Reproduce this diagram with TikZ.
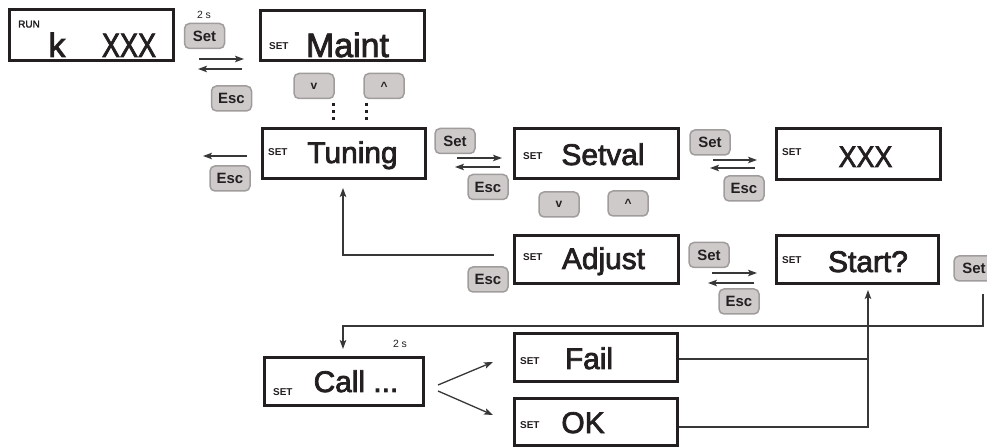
\documentclass[tikz,border=0pt]{standalone}
\usepackage{fontspec}
\setmainfont{Liberation Sans}
\newfontfamily\lcdfont[FakeBold=2.5]{Liberation Sans}
\usetikzlibrary{arrows.meta}
\definecolor{btnfill}{RGB}{206,202,202}
\definecolor{btnedge}{RGB}{160,156,156}
\definecolor{ink}{RGB}{35,31,32}
\definecolor{wire}{RGB}{55,55,55}
\tikzset{
  lcd/.style={draw=ink, line width=3bp, rectangle, inner sep=0pt},
  key/.style={draw=btnedge, fill=btnfill, line width=1.5bp, rounded corners=5bp,
    minimum width=40bp, minimum height=25bp, inner sep=0pt,
    font=\fontsize{15}{15}\selectfont\bfseries, text=ink},
  arrkey/.style={key, font=\fontsize{12}{12}\selectfont\bfseries},
  setlbl/.style={anchor=base west, inner sep=0pt, font=\fontsize{10}{10}\selectfont\bfseries, text=ink},
  big/.style={anchor=base, inner sep=0pt, font=\fontsize{30}{30}\selectfont\lcdfont, text=ink},
  bigger/.style={anchor=base, inner sep=0pt, font=\fontsize{34}{34}\selectfont\lcdfont, text=ink},
  small/.style={inner sep=0pt, font=\fontsize{10.5}{10.5}\selectfont, text=ink},
  wirestyle/.style={draw=wire, line width=1.3bp},
  tipped/.style={wirestyle, -{Stealth[length=9bp,width=6.5bp,inset=2bp]}},
  dotcol/.style={draw=ink, line width=3bp, dash pattern=on 3bp off 4bp},
}
\begin{document}
\begin{tikzpicture}[x=1bp,y=-1bp]
\useasboundingbox (0,0) rectangle (987,447);

% ---------- display boxes ----------
\node[lcd, minimum width=164bp, minimum height=51bp] (run) at (91.5,35) {};
\node[lcd, minimum width=164bp, minimum height=50bp] (maint) at (342.5,35.5) {};
\node[lcd, minimum width=163bp, minimum height=50bp] (tuning) at (344,153.5) {};
\node[lcd, minimum width=164bp, minimum height=50bp] (setval) at (596.5,153.5) {};
\node[lcd, minimum width=164bp, minimum height=51bp] (xxx) at (858.5,154) {};
\node[lcd, minimum width=164bp, minimum height=48bp] (adjust) at (596.5,259.5) {};
\node[lcd, minimum width=162bp, minimum height=48bp] (start) at (857.5,259.5) {};
\node[lcd, minimum width=159bp, minimum height=48bp] (call) at (344,381.5) {};
\node[lcd, minimum width=163bp, minimum height=48bp] (fail) at (596,357.5) {};
\node[lcd, minimum width=163bp, minimum height=47bp] (ok) at (596,422) {};

% ---------- box texts ----------
\node[anchor=base west, inner sep=0pt, text=ink, font=\fontsize{10}{10}\selectfont\lcdfont] (run-tag) at (18,27.5) {RUN};
\node[bigger] (run-k) at (57,57) {k};
\node[bigger] (run-x) at (129,57) {\scalebox{0.8}[1]{XXX}};

\node[setlbl] (maint-tag) at (269,50) {SET};
\node[bigger] (maint-t) at (347.5,57) {Maint};

\node[setlbl] (tuning-tag) at (268,156) {SET};
\node[big] (tuning-t) at (352.5,163) {Tuning};

\node[setlbl] (setval-tag) at (523,160) {SET};
\node[big] (setval-t) at (603,165) {Setval};

\node[setlbl] (xxx-tag) at (782,156) {SET};
\node[big] (xxx-t) at (865.5,167) {\scalebox{0.9}[1]{XXX}};

\node[setlbl] (adjust-tag) at (523,261) {SET};
\node[big] (adjust-t) at (603.5,269) {Adjust};

\node[setlbl] (start-tag) at (782,264) {SET};
\node[big] (start-t) at (868,272) {Start?};

\node[setlbl] (call-tag) at (273,395) {SET};
\node[big] (call-t) at (356,392) {Call ...};

\node[setlbl] (fail-tag) at (520,365) {SET};
\node[big] (fail-t) at (589,369) {Fail};

\node[setlbl] (ok-tag) at (520,428) {SET};
\node[big] (ok-t) at (583,433) {OK};

% ---------- keys ----------
\node[key] (k1) at (204.5,36) {Set};
\node[key] (k2) at (231.5,98.5) {Esc};
\node[arrkey] (k3) at (314,86) {v};
\node[arrkey] (k4) at (384,86) {\raisebox{-3bp}{\textasciicircum}};
\node[key] (k5) at (230,178.5) {Esc};
\node[key] (k6) at (455,141) {Set};
\node[key] (k7) at (488,187) {Esc};
\node[arrkey] (k8) at (559,204.5) {v};
\node[arrkey] (k9) at (628,203.5) {\raisebox{-3bp}{\textasciicircum}};
\node[key] (k10) at (710,142.5) {Set};
\node[key] (k11) at (744,188.5) {Esc};
\node[key] (k12) at (488,279.5) {Esc};
\node[key] (k13) at (709,255) {Set};
\node[key] (k14) at (739,301.5) {Esc};
\node[key] (k15) at (974,268.5) {Set};

% ---------- timing labels ----------
\node[small] (two-a) at (204,15) {2 s};
\node[small] (two-b) at (400,344) {2 s};

% ---------- dotted continuation ----------
\coordinate (d1a) at (333,103); \coordinate (d1b) at (333,121);
\coordinate (d2a) at (366,103); \coordinate (d2b) at (366,121);
\draw[dotcol] (d1a) -- (d1b);
\draw[dotcol] (d2a) -- (d2b);

% ---------- short transition arrows ----------
\coordinate (a1s) at (199,59);  \coordinate (a1e) at (244,59);
\coordinate (a1r) at (242,69);  \coordinate (a1l) at (198,69);
\draw[tipped] (a1s) -- (a1e);
\draw[tipped] (a1r) -- (a1l);

\coordinate (a2s) at (247,156); \coordinate (a2e) at (203,156);
\draw[tipped] (a2s) -- (a2e);

\coordinate (a3s) at (457,158); \coordinate (a3e) at (502,158);
\coordinate (a3r) at (500,167); \coordinate (a3l) at (455,167);
\draw[tipped] (a3s) -- (a3e);
\draw[tipped] (a3r) -- (a3l);

\coordinate (a4s) at (713,160); \coordinate (a4e) at (757,160);
\coordinate (a4r) at (755,168); \coordinate (a4l) at (710,168);
\draw[tipped] (a4s) -- (a4e);
\draw[tipped] (a4r) -- (a4l);

\coordinate (a5s) at (712,273); \coordinate (a5e) at (757,273);
\coordinate (a5r) at (754,283); \coordinate (a5l) at (708,283);
\draw[tipped] (a5s) -- (a5e);
\draw[tipped] (a5r) -- (a5l);

% ---------- return Adjust -> Tuning ----------
\coordinate (adjret) at (494,255);
\coordinate (tunin) at (343,188);
\draw[tipped] (adjret) -| (tunin);

% ---------- Start? -> Call ----------
\coordinate (setout) at (983,294);
\coordinate (callbend) at (343,326);
\coordinate (callin) at (343,349);
\draw[tipped] (setout) |- (callbend) -- (callin);

% ---------- Call -> Fail / OK ----------
\coordinate (c1s) at (438,385); \coordinate (c1e) at (493,362);
\coordinate (c2s) at (438,391); \coordinate (c2e) at (493,415);
\draw[tipped] (c1s) -- (c1e);
\draw[tipped] (c2s) -- (c2e);

% ---------- Fail / OK -> Start? ----------
\coordinate (failout) at (679,359);
\coordinate (okout) at (679,427);
\coordinate (joinx) at (868,359);
\coordinate (startin) at (868,290);
\draw[wirestyle] (failout) -- (joinx);
\draw[tipped] (okout) -| (startin);
\end{tikzpicture}
\end{document}
